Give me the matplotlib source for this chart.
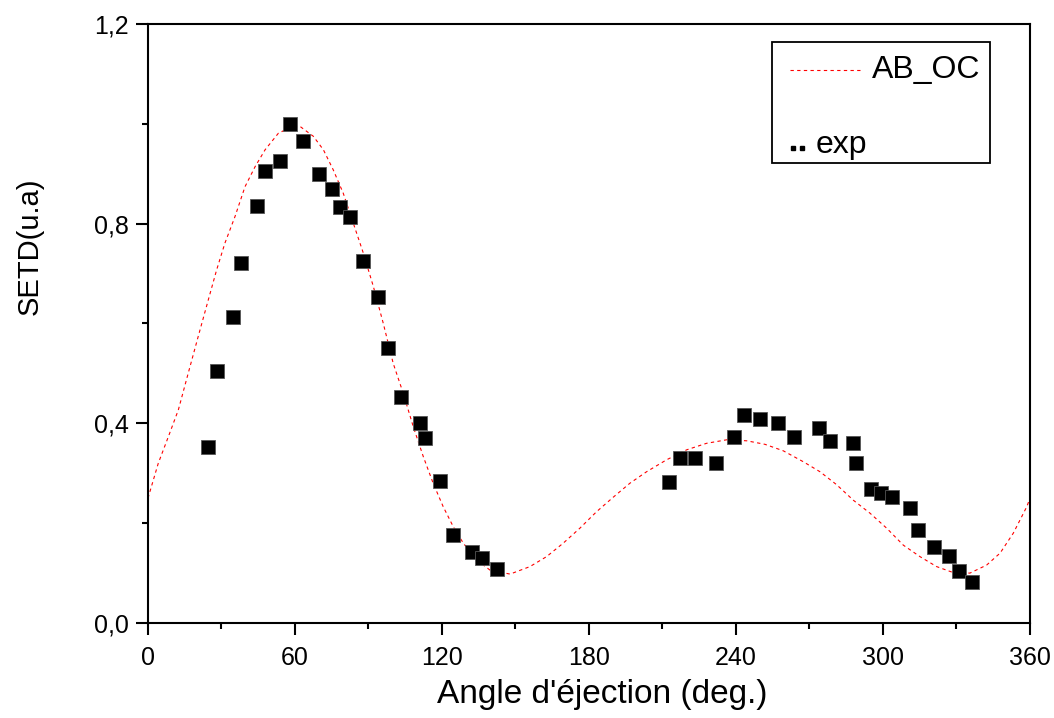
import matplotlib
matplotlib.use("Agg")
import matplotlib.pyplot as plt
from matplotlib.ticker import MultipleLocator, FuncFormatter
from matplotlib.lines import Line2D
from matplotlib.patches import Rectangle

plt.rcParams['font.family'] = ['Liberation Sans', 'DejaVu Sans']

# AB_OC theory curve
theoryAngle = [0, 4.2, 8.3, 12.4, 16.4, 20.5, 24.6, 28.0, 31.4, 35.5, 39.6, 43.7, 47.8, 53.2, 57.3,
	62.0, 67.5, 71.6, 75.6, 79.7, 83.8, 87.9, 92.0, 96.0, 100.1, 104.2, 108.3, 112.4, 116.4, 120.5,
	124.6, 128.7, 134.2, 139.6, 147.8, 155.9, 162.7, 169.5, 176.3, 183.1, 189.9, 196.7, 203.5,
	211.7, 219.9, 228.0, 236.2, 244.4, 251.8, 259.3, 267.5, 274.3, 281.1, 287.9, 294.7, 301.5,
	308.3, 315.1, 321.9, 328.7, 335.5, 342.3, 347.8, 353.2, 358.7, 360]
theorySetd = [0.250, 0.320, 0.373, 0.427, 0.500, 0.574, 0.647, 0.707, 0.761, 0.814, 0.874, 0.914, 0.948, 0.981, 0.991,
	0.995, 0.975, 0.948, 0.908, 0.861, 0.801, 0.741, 0.674, 0.601, 0.520, 0.460, 0.393, 0.333, 0.280, 0.233,
	0.193, 0.160, 0.126, 0.106, 0.098, 0.113, 0.133, 0.160, 0.190, 0.223, 0.252, 0.280, 0.303,
	0.327, 0.347, 0.360, 0.367, 0.365, 0.358, 0.345, 0.323, 0.303, 0.277, 0.246, 0.220, 0.190,
	0.156, 0.133, 0.113, 0.101, 0.100, 0.116, 0.140, 0.180, 0.233, 0.250]

# experimental points
expAngle = [24.5, 28.2, 34.7, 38.0, 44.5, 47.8, 53.9, 58.0, 63.3, 69.8, 75.1, 78.4, 82.4, 87.8,
	93.9, 98.0, 103.3, 111.0, 113.1, 119.2, 124.5, 132.2, 136.3, 142.4,
	212.7, 217.1, 223.3, 231.8, 239.2, 243.3, 249.8, 257.1, 263.7, 273.9, 278.4, 287.8, 289.0,
	295.1, 299.2, 303.7, 311.0, 314.3, 320.8, 326.9, 331.0, 336.3]
expSetd = [0.353, 0.505, 0.613, 0.721, 0.836, 0.906, 0.926, 1.000, 0.966, 0.900, 0.870, 0.834, 0.814, 0.725,
	0.653, 0.551, 0.453, 0.401, 0.371, 0.285, 0.176, 0.142, 0.130, 0.108,
	0.283, 0.331, 0.331, 0.320, 0.373, 0.417, 0.409, 0.401, 0.373, 0.391, 0.365, 0.361, 0.321,
	0.268, 0.261, 0.252, 0.230, 0.186, 0.152, 0.134, 0.104, 0.082]

def commaFmt(val, pos):
	return ("%.1f" % val).replace('.', ',')

fig = plt.figure(figsize=(10.54, 7.18), dpi=100)
ax = fig.add_axes([0.1404, 0.1323, 0.8368, 0.8343])

ax.plot(theoryAngle, theorySetd, color='red', linestyle=(0, (3, 3)), linewidth=0.8)
ax.plot(expAngle, expSetd, linestyle='none', marker='s', markersize=9.5,
	markerfacecolor='black', markeredgecolor='#555555', markeredgewidth=0.6)

ax.set_xlim(0, 360)
ax.set_ylim(0, 1.2)
ax.xaxis.set_major_locator(MultipleLocator(60))
ax.xaxis.set_minor_locator(MultipleLocator(30))
ax.yaxis.set_major_locator(MultipleLocator(0.4))
ax.yaxis.set_minor_locator(MultipleLocator(0.2))
ax.yaxis.set_major_formatter(FuncFormatter(commaFmt))

for side in ['left', 'bottom', 'top', 'right']:
	ax.spines[side].set_linewidth(1.5)
ax.tick_params(which='both', direction='out', top=False, right=False, width=1.5, labelsize=18)
ax.tick_params(axis='y', which='major', length=9, pad=5)
ax.tick_params(axis='y', which='minor', length=4.5)
ax.tick_params(axis='x', which='major', length=8.5, pad=8)
ax.tick_params(axis='x', which='minor', length=4.5)

ax.set_xlabel("Angle d'éjection (deg.)", fontsize=24)
ax.set_ylabel("SETD(u.a)", fontsize=21)
ax.xaxis.set_label_coords(0.515, -0.093)
ax.yaxis.set_label_coords(-0.118, 0.629)

# legend box drawn by hand, like the original
ax.add_patch(Rectangle((0.7075, 0.768), 0.2471, 0.202, transform=ax.transAxes,
	fill=False, edgecolor='black', linewidth=1.3, zorder=5))
ax.add_line(Line2D([0.728, 0.8095], [0.923, 0.923], transform=ax.transAxes,
	color='red', linestyle=(0, (3, 3)), linewidth=0.8))
ax.text(0.821, 0.923, "AB_OC", transform=ax.transAxes, fontsize=23, va='center', ha='left')
ax.plot([0.731, 0.741], [0.793, 0.793], transform=ax.transAxes, linestyle='none',
	marker='s', markersize=3.5, color='black')
ax.text(0.7575, 0.798, "exp", transform=ax.transAxes, fontsize=23, va='center', ha='left')

fig.savefig("out.png", dpi=100)
